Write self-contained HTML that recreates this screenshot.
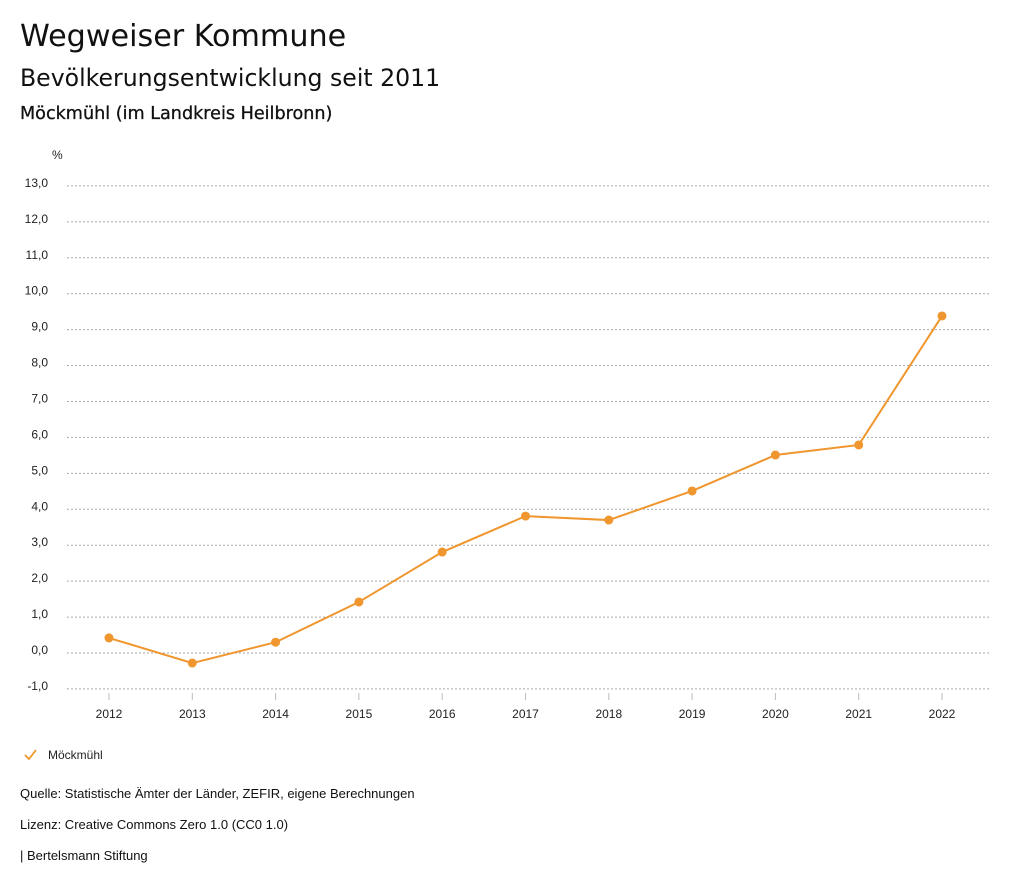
<!DOCTYPE html>
<html><head><meta charset="utf-8"><style>
body{margin:0;background:#fff;font-family:"Liberation Sans","DejaVu Sans",sans-serif;color:#111}
.t{position:absolute;left:20px;white-space:nowrap}
.h{font-family:"DejaVu Sans","Liberation Sans",sans-serif}
</style></head><body>
<div style="position:relative;width:1024px;height:888px;overflow:hidden">
<div class="t h" style="top:19px;font-size:30.2px">Wegweiser Kommune</div>
<div class="t h" style="top:64px;font-size:23.6px">Bevölkerungsentwicklung seit 2011</div>
<div class="t h" style="top:104px;font-size:17.6px;font-weight:500;-webkit-text-stroke:0.3px #111">Möckmühl (im Landkreis Heilbronn)</div>
<svg id="c" width="1024" height="888" style="position:absolute;left:0;top:0" font-family="Liberation Sans, DejaVu Sans, sans-serif"></svg>
<div class="t" style="top:786px;font-size:13px">Quelle: Statistische Ämter der Länder, ZEFIR, eigene Berechnungen</div>
<div class="t" style="top:817px;font-size:13px">Lizenz: Creative Commons Zero 1.0 (CC0 1.0)</div>
<div class="t" style="top:848px;font-size:13px">| Bertelsmann Stiftung</div>
</div>
<script>
const years=["2012","2013","2014","2015","2016","2017","2018","2019","2020","2021","2022"];
const values=[0.42,-0.28,0.3,1.42,2.81,3.81,3.7,4.51,5.51,5.79,9.38];
const yTicks=[-1,0,1,2,3,4,5,6,7,8,9,10,11,12,13];
const svg=document.getElementById('c');
const NS='http://www.w3.org/2000/svg';
const y=v=>653-v*35.93;
const x=i=>109+i*83.3;
function mk(t,a){const e=document.createElementNS(NS,t);for(const k in a)e.setAttribute(k,a[k]);svg.appendChild(e);return e;}
let u=mk('text',{x:52,y:159,'font-size':12,fill:'#222'});u.textContent='%';


yTicks.forEach(v=>{
 const l=mk('line',{x1:67,x2:990,y1:y(v),y2:y(v),stroke:'#aaa','stroke-dasharray':'2,2','stroke-width':1});
 
 
 const t=mk('text',{x:48,y:y(v)+1,'text-anchor':'end','font-size':12,fill:'#222'});
 t.textContent=v.toFixed(1).replace('.',',');
 
 
});
years.forEach((yr,i)=>{
 const l=mk('line',{x1:x(i),x2:x(i),y1:693,y2:700,stroke:'#bbb'});
 
 
 const t=mk('text',{x:x(i),y:718,'text-anchor':'middle','font-size':12,fill:'#222'});
 t.textContent=yr;
 
 
});
const p=mk('polyline',{points:values.map((v,i)=>x(i)+','+y(v)).join(' '),fill:'none',stroke:'#f0962e','stroke-width':2});


values.forEach((v,i)=>{
 const c=mk('circle',{cx:x(i),cy:y(v),r:4.5,fill:'#f0962e'});
 
 
});
const lg=mk('polyline',{points:'25,755 29,759 36,750',fill:'none',stroke:'#f0962e','stroke-width':1.8});


const lt=mk('text',{x:48,y:759,'font-size':12,fill:'#222'});lt.textContent='Möckmühl';


</script>
</body></html>
